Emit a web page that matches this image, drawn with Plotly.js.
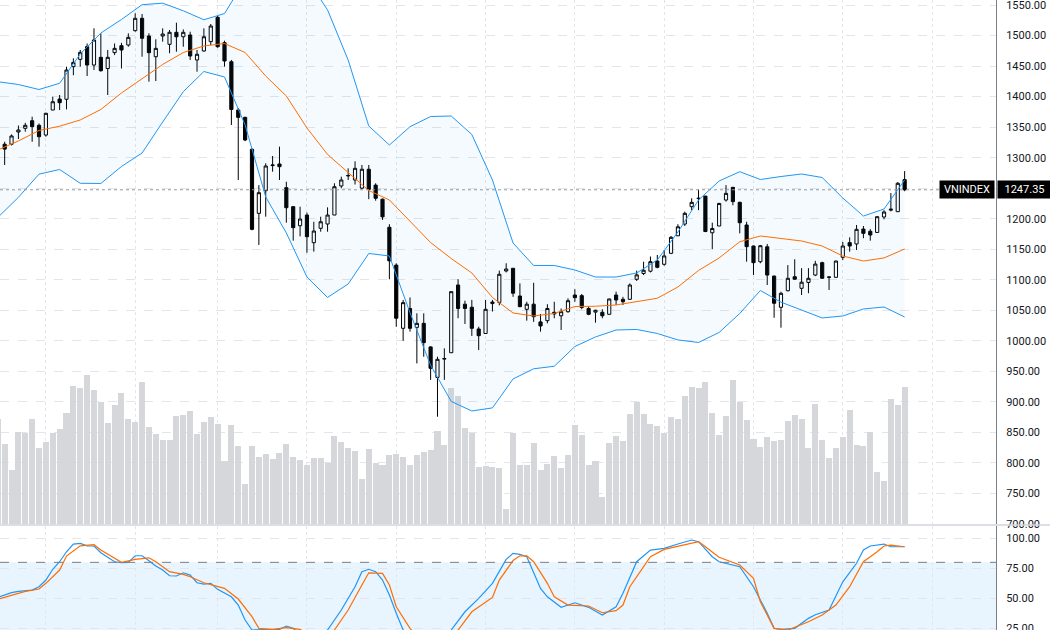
<!DOCTYPE html>
<html><head><meta charset="utf-8">
<script src="https://cdn.plot.ly/plotly-3.0.1.min.js"></script>
<style>html,body{margin:0;padding:0;background:#fff}#chart{width:1050px;height:630px}</style>
</head><body><div id="chart"></div>
<script>
const symbol = 'VNINDEX';
const lastPrice = 1247.35;

const opens = [1365,1322,1322,1342,1348,1360.5,1353,1337,1378,1396,
1395.6,1449,1461,1481.7,1451.7,1464.3,1446,1472,1483.4,1484.5,
1508,1528.2,1499.2,1465.3,1499.2,1485.6,1505.3,1498,1500.9,1460,
1474.7,1490,1529.9,1488.3,1457.1,1378,1366,1313.7,1208.8,1245.9,
1287,1289.6,1250.8,1219.7,1188.5,1206,1160.7,1184.3,1191.3,1206,
1253.6,1270,1263.4,1250,1281,1255,1232,1186,1124,1020.5,
1053,1022,1028.6,990,940,970,980.5,1091.4,1060,1055,
1019.4,1012,1061,1063,1114.4,1118.8,1073.4,1051.6,1060,1031,
1033,1046.7,1041,1047.7,1075,1074,1053,1047,1046.7,1043.4,
1075,1068,1068,1100.8,1110.3,1114,1130.7,1125.3,1143.3,1172,
1191.3,1219.7,1233,1237,1177,1188,1230.6,1251.4,1226.8,1189.7,
1155.3,1129.6,1154,1106,1054.9,1082,1105,1086,1095.6,1107.7,
1128,1104,1104,1136.8,1160.8,1158.6,1183,1179.4,1177.5,1202.8,
1214,1211.5,1264];
const highs = [1370,1326,1338,1352.6,1357,1367,1356,1373.6,1400,1402.6,
1449,1462.7,1476.3,1487,1511.8,1503.6,1476.3,1487,1488,1503.6,
1536.4,1535.3,1503.6,1493.8,1511.8,1509,1521,1510,1506.3,1476.3,
1511.8,1518.9,1532,1491.5,1460,1381.3,1367,1315,1255,1290.7,
1302.7,1318,1260.6,1220.8,1219.7,1210,1195,1203.3,1218.6,1258,
1268.8,1282.5,1294,1288,1288,1258,1233,1191,1127,1067,
1071,1045,1045,991,974,987.7,1081,1100.8,1065.7,1067,
1023,1067,1067,1115,1127,1119,1094,1064,1095,1044,
1060,1064,1053,1069.6,1084.5,1076.7,1056,1051,1051.6,1069,
1080.5,1072,1094,1115,1129.6,1138,1140.6,1148.7,1171.7,1191,
1211.5,1233.4,1248,1237.5,1193.5,1226,1255,1252,1227.8,1195,
1156,1157,1158.6,1107,1080.5,1124,1133.6,1119,1119,1131,
1129.6,1105,1131,1162,1169.5,1189.7,1188,1183,1204,1214,
1242,1260,1278];
const lows = [1318,1288,1320,1330.5,1342.5,1326,1318,1334.3,1378,1378,
1379,1435,1449,1433.7,1443.5,1440.8,1402.6,1468,1446,1481.7,
1506.3,1465.3,1424.4,1425.5,1490,1471,1473.5,1481.7,1460,1440.8,
1473.5,1484.5,1480,1449,1353.5,1263.4,1327,1181,1157,1203.3,
1277,1263.4,1193.5,1164,1171,1144.3,1146,1178.7,1178.7,1206,
1249.8,1263.4,1256,1248,1232,1229.5,1198,1100.8,1023,1000,
1015,963,974,936,875.7,936,980,1037,1027.6,1008,
985,1012,1048,1058,1112,1072,1055,1033,1031,1015,
1028.6,1037,1017.8,1046,1064,1051.6,1042,1029.7,1037,1043,
1058.7,1058.7,1067,1098,1107.7,1112,1118.8,1123,1142,1171.7,
1188,1214,1214,1178,1150,1188,1228,1222,1176,1129.6,
1107.7,1127,1091.4,1037.8,1021.5,1081,1099.7,1075,1078,1106,
1102,1083.3,1103,1132.4,1146,1148.8,1168,1164,1177,1199,
1212,1211,1245];
const closes = [1324,1314,1335.5,1345.3,1353,1350.7,1334.3,1372.6,1391.6,1390,
1443.5,1456,1472.5,1451.7,1492.7,1442.4,1464.3,1479,1476.3,1497,
1528.2,1495.5,1471.9,1479,1502.5,1505.3,1498,1505.3,1466.5,1469.3,
1498,1515.6,1481.7,1458.3,1379,1366,1329,1182.6,1242.6,1286.3,
1288,1285.2,1218,1185.3,1199.5,1170.5,1179.8,1195,1206,1252.4,
1263.4,1270.8,1282.5,1281,1248,1233.4,1203,1131,1037,1062.5,
1020.5,1028.6,997,955,969.7,971,1080.5,1053,1053,1020.5,
1008.4,1051.6,1063.5,1109,1117.6,1078,1056,1060,1039.5,1024.3,
1053,1044,1047.7,1065.7,1070.7,1054.6,1043.4,1050,1041,1068.5,
1066.9,1064,1091.4,1108,1115.6,1129.6,1120.4,1139,1169.5,1186.7,
1208.8,1226.8,1233.4,1179,1184,1225,1241.5,1228,1193.4,1154.2,
1128,1155.8,1107.7,1061.5,1077.8,1102.4,1101,1096,1102.4,1125.7,
1102.4,1104.5,1130.7,1155.3,1155.3,1182.6,1176,1173.3,1203.3,1211,
1215.5,1258,1247.35];
const volumes = [3150,2400,1620,2780,2730,3150,2290,2460,2740,2850,
3330,4160,4100,4480,4020,3670,3030,3570,3930,3150,
3060,4260,2910,2720,2520,2520,3240,3280,3390,2700,
3060,3210,3000,1910,2970,2340,1200,2350,2010,2100,
1960,2130,2400,2010,1920,1790,1980,1980,1850,2660,
2460,2290,2190,1360,2270,1840,1770,2090,2120,2010,
1770,2070,2160,2220,2790,2370,4080,3840,2880,2730,
1710,1740,1710,1680,470,2730,1790,1790,2430,1620,
1800,2040,1680,2070,2970,2670,1770,1890,810,2450,
2660,2510,3310,3660,3310,3000,2940,2730,3210,3170,
3850,4110,4080,4270,3330,2670,3240,4320,3660,3120,
2550,2310,2610,2510,2520,3090,3270,3150,2280,3610,
2520,1980,2290,2620,3420,2370,2340,2770,1580,1290,
3770,3570,4110];

// Bollinger Bands (20, 2), read at every third bar
const bandIdx = [0,3,6,9,12,15,18,21,24,27,30,33,36,39,42,45,48,51,54,57,60,63,66,69,72,75,78,81,84,87,90,93,96,99,102,105,108,111,114,117,120,123,126,129,132];
const bbUpper = [1424.4,1419.8,1411.6,1421.8,1469.8,1504.1,1526.3,1550.5,1553,1540.5,1525.9,1536,1591,1632,1625,1593,1542,1459.9,1351.8,1320.7,1350.7,1367.4,1368.2,1337.9,1263.4,1160.2,1123.4,1123.4,1116,1104.5,1104.5,1111.1,1132.4,1178.2,1230.6,1261.8,1277,1264.2,1269.1,1273.2,1267.5,1233.9,1204.4,1215.9,1263.4];
const bbMiddle = [1312.5,1327.3,1344.5,1351.5,1361.7,1378.9,1405.9,1428.8,1452.6,1472.2,1482.9,1486.9,1472.2,1433.7,1401,1348.6,1305.2,1275.7,1246.2,1230.7,1196,1161,1134.8,1111.1,1071,1045.6,1040.7,1044.8,1056.2,1056.6,1058.7,1063.6,1069.7,1088.2,1115.2,1135.7,1162.2,1171.7,1167.8,1163.5,1155.3,1138.9,1130.7,1135.7,1150.4];
const bbLower = [1202,1235,1273,1280.6,1258,1257.7,1285.5,1307.6,1358.4,1408,1441.1,1432.1,1353.5,1235.6,1176.6,1104.5,1071,1093.1,1143,1139,1046,960,900.7,885.1,890.1,937.5,954.2,958.3,990.7,1006.3,1017.7,1018.6,1012,1001.4,997.3,1013.7,1044.8,1082.4,1063.3,1050,1037.4,1040.7,1052.1,1055.4,1039];

// Stochastic %K and %D, read at the bars where they could be read
const kIdx = [0,2,3,5,6,7,8,9,10,11,12,13,14,15,16,17,18,19,20,21,22,23,24,25,26,27,28,29,30,31,32,34,35,36,37,39,41,42,43,45,46,48,50,52,53,54,55,56,57,58,59,61,63,65,66,68,70,72,74,75,76,77,79,80,82,84,86,88,90,91,93,95,97,99,101,102,104,105,108,110,112,113,114,116,118,119,121,123,125,126,127,129,130,132];
const stochK = [50.8,54.7,55.8,56.9,59.7,65.25,74.2,80.5,88.8,95.25,95.8,93.8,93.6,88,84.2,80.5,79.7,80,85.5,85.5,81.3,76.9,73.6,68.8,68.6,71.3,69.4,63,61.9,62.5,57.5,51.3,44.4,31.9,23.6,24.2,24.2,26.9,25,15,12,23.6,40.25,59.7,72.2,74.2,72.2,65.25,52.75,37.5,23.6,10,5,12,23.6,38.8,50,62.5,82.5,87.5,86.7,84.7,58.3,51.3,42.5,46.3,42.5,36.1,43,54.2,80.5,90.25,91.7,95.25,98.6,97.2,84.7,80.5,76.3,59.7,37.5,25,24.2,25,33.3,36.3,40.25,63.8,79.2,90.25,93.6,95.25,93,93];
const dIdx = [0,2,4,6,7,9,10,12,14,15,17,18,20,22,23,25,27,28,30,33,35,37,38,40,42,44,46,47,49,51,53,54,56,57,58,60,62,64,66,67,69,72,73,75,76,77,78,80,81,83,86,88,90,91,92,95,97,99,102,103,105,108,110,111,113,115,118,120,122,124,126,128,129,130,132];
const stochD = [49.2,52.75,55.8,57.75,62.5,73.6,85.25,93.8,94.7,90.25,83.3,80,82.5,83.8,80.5,72.2,70,68,63,58.3,49.4,34.7,25,24.2,25.5,24.2,17,15,23.6,40.25,61.1,71.3,70.8,61.1,43,25,12,6,15,23.6,38.8,50.8,65.25,81.5,85.4,85.5,80.5,62.5,51.3,44.4,43.6,38,39.7,44.4,59.7,84.7,90.8,93.6,97.2,93,84.2,77.75,66.7,47.2,25,23.6,30.5,36.1,44.4,59.7,80.5,88.8,93.6,94.4,93];

const priceTicks = [700,750,800,850,900,950,1000,1050,1100,1150,1200,1250,1300,1350,1400,1450,1500,1550];
const stochTicks = [25,50,75,100];
const stochBand = [20,80];
const quarterStarts = [7,20,32,45,58,71,84,97,110,123,136];

const idx = closes.map((_, i) => i);
const BLUE = '#2196f3', ORANGE = '#ff6d00';
const FONT = 'Roboto, "Liberation Sans", Arial, sans-serif';

const traces = [
  {type:'bar', x: idx, y: volumes, xaxis:'x', yaxis:'y', width:0.88,
   marker:{color:'#d6d7db', line:{width:0}}, hoverinfo:'skip'},
  {type:'scatter', mode:'lines', x: bandIdx, y: bbUpper, xaxis:'x', yaxis:'y2',
   line:{color:BLUE, width:1}, hoverinfo:'skip'},
  {type:'scatter', mode:'lines', x: bandIdx, y: bbLower, xaxis:'x', yaxis:'y2',
   line:{color:BLUE, width:1}, fill:'tonexty', fillcolor:'rgba(33,150,243,0.05)', hoverinfo:'skip'},
  {type:'scatter', mode:'lines', x: bandIdx, y: bbMiddle, xaxis:'x', yaxis:'y2',
   line:{color:ORANGE, width:1}, hoverinfo:'skip'},
  {type:'candlestick', x: idx, open: opens, high: highs, low: lows, close: closes,
   xaxis:'x', yaxis:'y2', whiskerwidth:0,
   increasing:{line:{color:'#000000', width:1}, fillcolor:'#ffffff'},
   decreasing:{line:{color:'#000000', width:1}, fillcolor:'#000000'},
   hoverinfo:'skip'},
  {type:'scatter', mode:'lines', x: kIdx, y: stochK, xaxis:'x', yaxis:'y3',
   line:{color:BLUE, width:1.2}, hoverinfo:'skip'},
  {type:'scatter', mode:'lines', x: dIdx, y: stochD, xaxis:'x', yaxis:'y3',
   line:{color:ORANGE, width:1.2}, hoverinfo:'skip'}
];

const gridC = '#e3e5ea';
const layout = {
  width:1050, height:630,
  margin:{l:0, r:54, t:0, b:0, pad:0},
  paper_bgcolor:'#ffffff', plot_bgcolor:'#ffffff',
  showlegend:false, boxgap:0.34, bargap:0,
  font:{family:FONT, size:11, color:'#131722'},
  xaxis:{range:[0.32,145.3], showticklabels:false, ticks:'', tickvals:quarterStarts,
    showgrid:true, gridcolor:gridC, griddash:'dot', gridwidth:1, zeroline:false, showline:false,
    anchor:'y3', rangeslider:{visible:false}, fixedrange:true},
  yaxis:{domain:[0.1675,1], range:[0,15735], visible:false, showgrid:false, fixedrange:true},
  yaxis2:{overlaying:'y', side:'right', range:[699.2,1558.2], tickvals:priceTicks,
    ticktext: priceTicks.map(v => v.toFixed(2)), ticks:'', ticklabelstandoff:7,
    ticklabeloverflow:'allow',
    showgrid:true, gridcolor:gridC, griddash:'dash', gridwidth:1, zeroline:false,
    showline:true, linecolor:'#7b7e87', linewidth:1,
    tickfont:{family:FONT, size:11, color:'#131722'}, fixedrange:true},
  yaxis3:{domain:[0,0.165], range:[23.6,110.25], side:'right', anchor:'x', tickvals:stochTicks,
    ticktext: stochTicks.map(v => v.toFixed(2)), ticks:'', ticklabelstandoff:7,
    ticklabeloverflow:'allow',
    showgrid:true, gridcolor:gridC, griddash:'dash', gridwidth:1, zeroline:false,
    showline:true, linecolor:'#7b7e87', linewidth:1,
    tickfont:{family:FONT, size:11, color:'#131722'}, fixedrange:true},
  shapes:[
    {type:'rect', xref:'paper', x0:0, x1:1, yref:'y3', y0:stochBand[0], y1:stochBand[1],
     fillcolor:'rgba(33,150,243,0.1)', line:{width:0}, layer:'below'},
    {type:'line', xref:'paper', x0:0, x1:1, yref:'y3', y0:stochBand[1], y1:stochBand[1],
     line:{color:'#787b86', width:1, dash:'dash'}},
    {type:'line', xref:'paper', x0:0, x1:1, yref:'y3', y0:stochBand[0], y1:stochBand[0],
     line:{color:'#787b86', width:1, dash:'dash'}},
    {type:'line', xref:'paper', x0:0, x1:1, yref:'y2', y0:lastPrice, y1:lastPrice,
     line:{color:'#9598a1', width:1, dash:'dot'}},
    {type:'line', xref:'paper', x0:0, x1:1.0543, yref:'paper', y0:0.1667, y1:0.1667,
     line:{color:'#d1d4dc', width:1.5}}
  ],
  annotations:[
    {xref:'paper', x:0.999, xanchor:'right', yref:'y2', y:lastPrice, yanchor:'middle',
     text:symbol, showarrow:false, bgcolor:'#000000', borderpad:3, width:48, height:11,
     font:{family:FONT, size:11, color:'#ffffff'}},
    {xref:'paper', x:1.001, xanchor:'left', yref:'y2', y:lastPrice, yanchor:'middle',
     text:lastPrice.toFixed(2), showarrow:false, bgcolor:'#000000', borderpad:3, width:47, height:11,
     font:{family:FONT, size:11, color:'#ffffff'}}
  ]
};

Plotly.newPlot('chart', traces, layout, {displayModeBar:false, staticPlot:true});
</script>
</body></html>
